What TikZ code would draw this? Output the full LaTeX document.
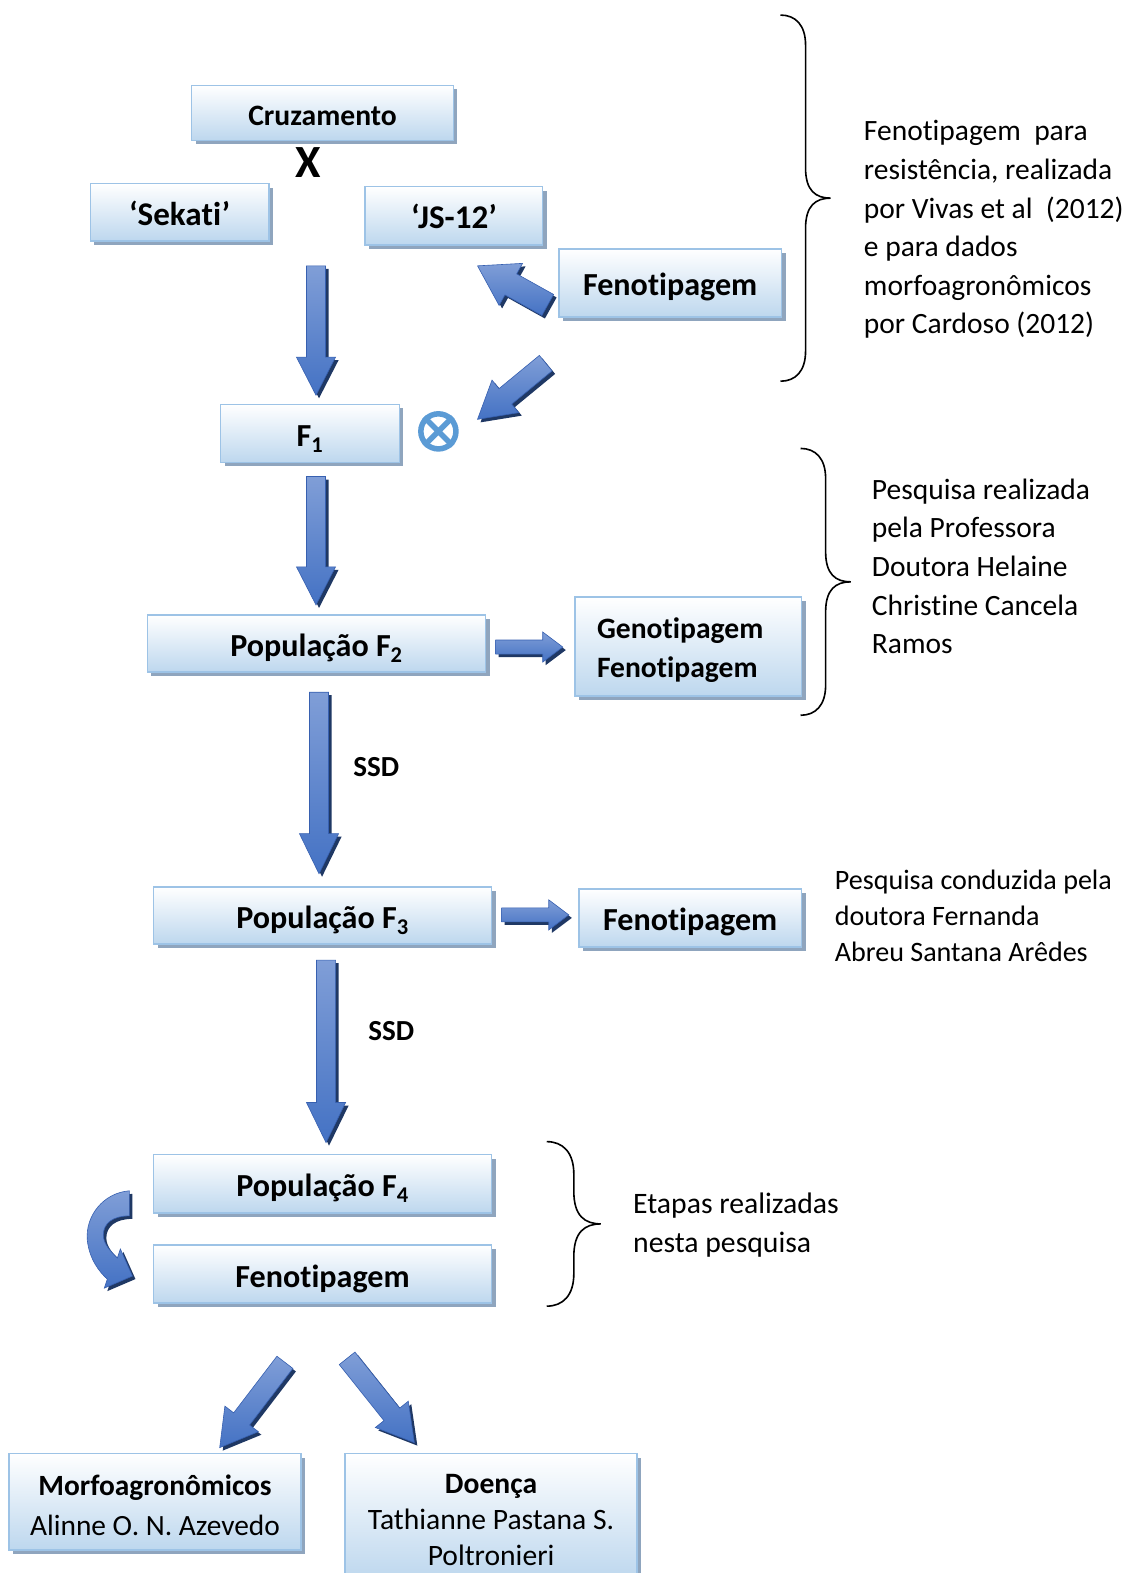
\documentclass[tikz,border=0pt]{standalone}
\usepackage{fontspec}
\setmainfont{Carlito}[Ligatures=NoCommon]
\usetikzlibrary{calc,shadows}

\definecolor{boxline}{RGB}{157,195,230}
\definecolor{boxbot}{RGB}{189,215,238}
\definecolor{boxshadow}{RGB}{143,165,190}
\definecolor{arrlight}{RGB}{128,158,215}
\definecolor{arrdark}{RGB}{68,114,196}
\definecolor{arredge}{RGB}{55,96,176}
\definecolor{arrshadow}{RGB}{31,56,100}
\definecolor{xblue}{RGB}{91,155,213}

\tikzset{
  box/.style={draw=boxline, line width=1.5pt, top color=white, bottom color=boxbot,
    general shadow={fill=boxshadow, shadow xshift=4pt, shadow yshift=-4pt},
    inner sep=0pt, align=center, text height=26pt, text depth=0pt,
    font=\fontsize{32}{39}\selectfont\bfseries},
  emptybox/.style={draw=boxline, line width=1.5pt, top color=white, bottom color=boxbot,
    general shadow={fill=boxshadow, shadow xshift=4pt, shadow yshift=-4pt}, inner sep=0pt},
  boxtext/.style={inner sep=0pt, yshift=-3.5pt},
  blockarr/.style={draw=arredge, line width=0.6pt, top color=arrlight, bottom color=arrdark,
    general shadow={fill=arrshadow, shadow xshift=3pt, shadow yshift=-3pt}},
  sidetext/.style={anchor=north west, inner sep=0pt, align=left, font=\fontsize{29.4}{38.5}\selectfont},
  lbl/.style={inner sep=0pt, font=\fontsize{29}{34}\selectfont\bfseries},
  bracestyle/.style={draw=black, line width=1.6pt},
}

\newcommand\blockarrow[6][]{%
  \coordinate (ba-h) at ($(#3)!#6!(#2)$);
  \path[blockarr,#1] ($(#2)!#4!90:(#3)$) -- ($(ba-h)!#4!90:(#3)$) -- ($(ba-h)!#5!90:(#3)$) -- (#3)
     -- ($(ba-h)!#5!-90:(#3)$) -- ($(ba-h)!#4!-90:(#3)$) -- ($(#2)!#4!-90:(#3)$) -- cycle;
}

\newcommand\curlybrace[4]{%
  \pgfmathsetmacro\cbA{#1+0.6*#4}%
  \pgfmathsetmacro\cbB{#1+#4}%
  \pgfmathsetmacro\cbC{#1+1.4*#4}%
  \pgfmathsetmacro\cbD{#1+2*#4}%
  \pgfmathsetmacro\cbM{(#2+#3)/2}%
  \pgfmathsetmacro\cbT{#2+0.4*#4}\pgfmathsetmacro\cbTT{#2+1.2*#4}%
  \pgfmathsetmacro\cbU{\cbM-1.2*#4}\pgfmathsetmacro\cbUU{\cbM-0.3*#4}%
  \pgfmathsetmacro\cbV{\cbM+0.3*#4}\pgfmathsetmacro\cbVV{\cbM+1.2*#4}%
  \pgfmathsetmacro\cbW{#3-1.2*#4}\pgfmathsetmacro\cbWW{#3-0.4*#4}%
  \draw[bracestyle] (#1,#2) .. controls (\cbA,#2) and (\cbB,\cbT) .. (\cbB,\cbTT) -- (\cbB,\cbU)
    .. controls (\cbB,\cbUU) and (\cbC,\cbM) .. (\cbD,\cbM)
    .. controls (\cbC,\cbM) and (\cbB,\cbV) .. (\cbB,\cbVV) -- (\cbB,\cbW)
    .. controls (\cbB,\cbWW) and (\cbA,#3) .. (#1,#3);
}

\begin{document}
\begin{tikzpicture}[x=1pt,y=-1pt]
\useasboundingbox (0,0) rectangle (1121,1568);
\fill[white] (0,0) rectangle (1121,1568);

% boxes
\node[box, minimum width=261, minimum height=55, font=\fontsize{29.5}{39}\selectfont\bfseries] (cruz) at (321.5,112.5) {Cruzamento};
\node[inner sep=0pt, font=\fontsize{46}{46}\selectfont\bfseries] (xx) at (307,162) {X};
\node[box, minimum width=178, minimum height=57, font=\fontsize{33}{39}\selectfont\bfseries] (sek) at (179,211.5) {‘Sekati’};
\node[box, minimum width=177, minimum height=58, font=\fontsize{33}{39}\selectfont\bfseries] (js) at (452.5,215) {‘JS-12’};
\node[box, minimum width=222, minimum height=68] (fen1) at (668,282) {Fenotipagem};
\node[box, minimum width=178, minimum height=58] (f1) at (309,432) {F\textsubscript{1}};
\node[box, minimum width=337, minimum height=57] (f2) at (315.5,641.5) {População F\textsubscript{2}};
\node[emptybox, minimum width=226, minimum height=99,
  label={[boxtext, xshift=-8pt, align=left, font=\fontsize{29.5}{39}\selectfont\bfseries]center:Genotipagem\\Fenotipagem}] (geno) at (686,644.5) {};
\node[box, minimum width=337, minimum height=57] (f3) at (321.5,912.5) {População F\textsubscript{3}};
\node[box, minimum width=222, minimum height=58] (fen3) at (688,915) {Fenotipagem};
\node[box, minimum width=337, minimum height=58] (f4) at (321.5,1180) {População F\textsubscript{4}};
\node[box, minimum width=337, minimum height=58] (fen4) at (321.5,1270) {Fenotipagem};
\node[emptybox, minimum width=291, minimum height=96,
  label={[boxtext, align=center, font=\fontsize{29.3}{39}\selectfont]center:\textbf{Morfoagronômicos}\\Alinne O. N. Azevedo}] (morfo) at (154.5,1497) {};
\node[emptybox, minimum width=291, minimum height=126,
  label={[boxtext, align=center, font=\fontsize{29.5}{36}\selectfont]center:\textbf{Doença}\\Tathianne Pastana S.\\Poltronieri}] (doenca) at (489.5,1512) {};

% selfing symbol
\node[circle, draw=xblue, line width=5.5pt, minimum size=35, inner sep=0pt] (self) at (437,430) {};
\draw[xblue, line width=5.5pt] (self.north west) -- (self.south east) (self.north east) -- (self.south west);

% labels
\node[lbl] (ssd1) at (375,765) {SSD};
\node[lbl] (ssd2) at (390,1028) {SSD};

% side texts
\node[sidetext] (t1) at (861,120) {Fenotipagem~ para\\resistência, realizada\\por Vivas et al~ (2012)\\e para dados\\morfoagronômicos\\por Cardoso (2012)};
\node[sidetext] (t2) at (869,477) {Pesquisa realizada\\pela Professora\\Doutora Helaine\\Christine Cancela\\Ramos};
\node[sidetext, font=\fontsize{28}{36}\selectfont] (t3) at (832,867) {Pesquisa conduzida pela\\doutora Fernanda\\Abreu Santana Arêdes};
\node[sidetext, font=\fontsize{29.6}{39}\selectfont] (t4) at (631,1189) {Etapas realizadas\\nesta pesquisa};

% braces
\curlybrace{778}{15}{380}{25}
\curlybrace{798}{447}{713}{25}
\curlybrace{545}{1138}{1302}{27}

% arrow end points
\coordinate (a1s) at (315,265);  \coordinate (a1e) at (315,394);
\coordinate (a2s) at (315,475);  \coordinate (a2e) at (315,603);
\coordinate (a3s) at (318,690);  \coordinate (a3e) at (318,871);
\coordinate (a4s) at (325,957);  \coordinate (a4e) at (325,1139);
\coordinate (h1s) at (494,645);  \coordinate (h1e) at (561,645);
\coordinate (h2s) at (500,912);  \coordinate (h2e) at (567,912);
\coordinate (d1s) at (546,304);  \coordinate (d1e) at (476,265);
\coordinate (d2s) at (544,362);  \coordinate (d2e) at (476,418);
\coordinate (d3s) at (284,1358); \coordinate (d3e) at (219,1443);
\coordinate (d4s) at (346,1354); \coordinate (d4e) at (413,1438);

\blockarrow{a1s}{a1e}{9.5pt}{19.5pt}{38pt}
\blockarrow{a2s}{a2e}{9.5pt}{19.5pt}{38pt}
\blockarrow{a3s}{a3e}{9.5pt}{19.5pt}{40pt}
\blockarrow{a4s}{a4e}{9.5pt}{19.5pt}{40pt}
\blockarrow{h1s}{h1e}{7pt}{15pt}{20pt}
\blockarrow{h2s}{h2e}{7pt}{15pt}{20pt}
\blockarrow{d1s}{d1e}{12pt}{24pt}{38pt}
\blockarrow{d2s}{d2e}{10pt}{21pt}{36pt}
\blockarrow{d3s}{d3e}{10pt}{21pt}{36pt}
\blockarrow{d4s}{d4e}{10pt}{21pt}{36pt}

% curved arrow
\path[blockarr] (129,1187) .. controls (103,1189) and (85,1212) .. (87,1236)
  .. controls (89,1255) and (99,1268) .. (107,1275) -- (104,1284) -- (132,1272) -- (120,1245) -- (117,1254)
  .. controls (110,1247) and (103,1240) .. (103,1231)
  .. controls (103,1219) and (113,1212) .. (129,1212) -- cycle;
\end{tikzpicture}
\end{document}
